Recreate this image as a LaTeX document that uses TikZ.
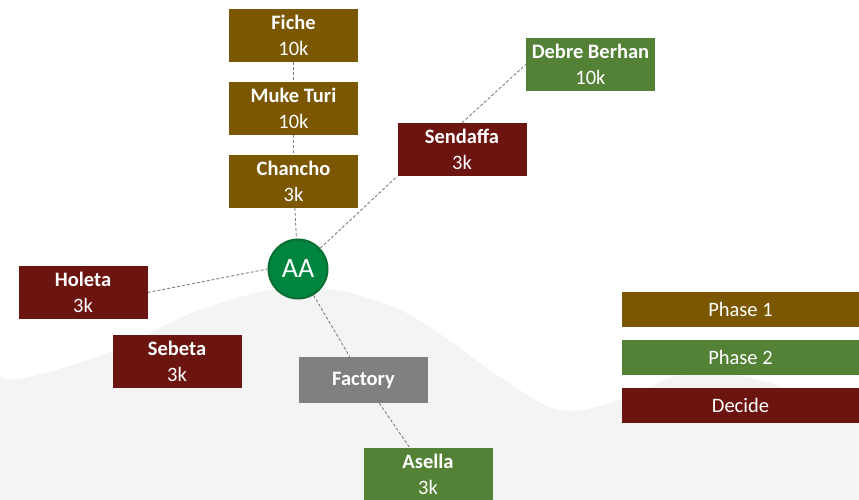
\documentclass[tikz,border=0pt]{standalone}
\usepackage{fontspec}
\setmainfont{Carlito}
\definecolor{phaseone}{HTML}{7A5700}
\definecolor{phasetwo}{HTML}{538135}
\definecolor{decide}{HTML}{6C1410}
\definecolor{factorygrey}{HTML}{808080}
\definecolor{aafill}{HTML}{00853F}
\definecolor{aaborder}{HTML}{0A6E33}
\definecolor{wavegrey}{HTML}{F4F4F4}
\definecolor{linkgrey}{HTML}{808080}
\begin{document}
\begin{tikzpicture}[x=1pt,y=-1pt,
  town/.style={rectangle, minimum width=129pt, minimum height=53pt, inner sep=0pt,
    align=center, text=white, font=\fontsize{20.5}{26}\selectfont},
  p1/.style={town, fill=phaseone},
  p2/.style={town, fill=phasetwo},
  dec/.style={town, fill=decide},
  legendbox/.style={rectangle, minimum width=237pt, minimum height=35pt, inner sep=0pt,
    text=white, font=\fontsize{20.5}{24}\selectfont},
  link/.style={draw=linkgrey, line width=0.9pt, dash pattern=on 3pt off 2pt}
]
\useasboundingbox (0,0) rectangle (859,500);
\fill[white] (0,0) rectangle (859,500);
\fill[wavegrey] plot[smooth, tension=0.6] coordinates {(0,376) (25,378) (110,352) (200,310) (300,287) (400,310) (500,377) (560,410) (620,400) (683,375) (760,380) (859,420)} -- (859,500) -- (0,500) -- cycle;

\node[p1] (fiche) at (293.5,35.5) {\textbf{Fiche}\\10k};
\node[p1] (muke) at (293.5,108.5) {\textbf{Muke Turi}\\10k};
\node[p1] (chancho) at (293.5,181.5) {\textbf{Chancho}\\3k};
\node[p2] (debre) at (590.5,64.5) {\textbf{Debre Berhan}\\10k};
\node[dec] (sendaffa) at (462,149.5) {\textbf{Sendaffa}\\3k};
\node[dec] (holeta) at (83,292.5) {\textbf{Holeta}\\3k};
\node[dec] (sebeta) at (177,361.5) {\textbf{Sebeta}\\3k};
\node[town, fill=factorygrey, minimum height=46pt] (factory) at (363.5,380) {\textbf{Factory}};
\node[p2] (asella) at (428,474.5) {\textbf{Asella}\\3k};
\node[circle, fill=aafill, draw=aaborder, line width=2pt, minimum size=59pt, inner sep=0pt,
  text=white, font=\fontsize{28}{32}\selectfont] (aa) at (298,269) {AA};

\draw[link] (fiche) -- (muke);
\draw[link] (muke) -- (chancho);
\draw[link] (chancho) -- (aa);
\draw[link] (aa) -- (sendaffa.south west);
\draw[link] (sendaffa.north) -- (debre.west);
\draw[link] (holeta.east) -- (aa.west);
\draw[link] (aa) -- (factory);
\draw[link] (factory) -- (asella);

\node[legendbox, fill=phaseone] (leg1) at (740.5,309.5) {Phase 1};
\node[legendbox, fill=phasetwo] (leg2) at (740.5,357.5) {Phase 2};
\node[legendbox, fill=decide] (leg3) at (740.5,405.5) {Decide};
\end{tikzpicture}
\end{document}
